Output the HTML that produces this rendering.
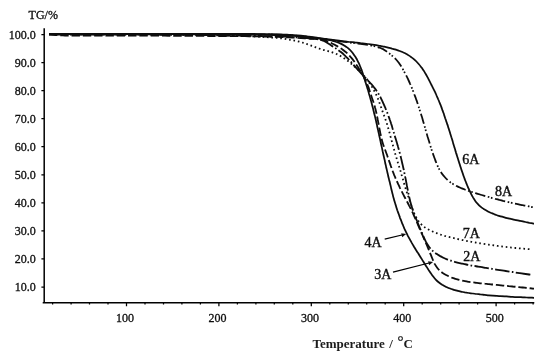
<!DOCTYPE html>
<html><head><meta charset="utf-8"><title>TG curves</title>
<style>
html,body{margin:0;padding:0;background:#fff;}
body{width:550px;height:357px;overflow:hidden;}
svg{display:block;}
text{font-family:"Liberation Serif","Times New Roman",serif;fill:#0c0c0c;stroke:#0c0c0c;stroke-width:0.24px;}
.t12{font-size:12px;stroke-width:0.3px;}
.t14{font-size:14px;stroke-width:0.36px;}
.ax{stroke:#000;stroke-width:1.5;fill:none;}
.cv path{stroke:#0a0a0a;fill:none;}
</style></head><body>
<svg width="550" height="357" viewBox="0 0 550 357">
<rect width="550" height="357" fill="#fff"/>
<g style="filter:url(#b)">
<defs><filter id="b" x="-2%" y="-2%" width="104%" height="104%"><feGaussianBlur stdDeviation="0.3"/></filter></defs>

<path class="ax" d="M44.2 28.3V302.8M42.7 302.8H534.3"/>
<path class="ax" style="stroke-width:1.25" d="M41.4 287.0H44.2M41.4 258.9H44.2M41.4 230.9H44.2M41.4 202.8H44.2M41.4 174.8H44.2M41.4 146.7H44.2M41.4 118.6H44.2M41.4 90.6H44.2M41.4 62.5H44.2M41.4 34.5H44.2"/>
<path class="ax" style="stroke-width:1.25" d="M52.6 302.8V304.6M71.1 302.8V304.6M89.5 302.8V304.6M108.0 302.8V304.6M126.5 302.8V306.2M145.0 302.8V304.6M163.5 302.8V304.6M181.9 302.8V304.6M200.4 302.8V304.6M218.9 302.8V306.2M237.4 302.8V304.6M255.9 302.8V304.6M274.3 302.8V304.6M292.8 302.8V304.6M311.3 302.8V306.2M329.8 302.8V304.6M348.3 302.8V304.6M366.7 302.8V304.6M385.2 302.8V304.6M403.7 302.8V306.2M422.2 302.8V304.6M440.7 302.8V304.6M459.1 302.8V304.6M477.6 302.8V304.6M496.1 302.8V306.2M514.6 302.8V304.6M533.1 302.8V304.6"/>
<text class="t12" x="35.8" y="291.3" text-anchor="end">10.0</text>
<text class="t12" x="35.8" y="263.2" text-anchor="end">20.0</text>
<text class="t12" x="35.8" y="235.2" text-anchor="end">30.0</text>
<text class="t12" x="35.8" y="207.1" text-anchor="end">40.0</text>
<text class="t12" x="35.8" y="179.1" text-anchor="end">50.0</text>
<text class="t12" x="35.8" y="151.0" text-anchor="end">60.0</text>
<text class="t12" x="35.8" y="122.9" text-anchor="end">70.0</text>
<text class="t12" x="35.8" y="94.9" text-anchor="end">80.0</text>
<text class="t12" x="35.8" y="66.8" text-anchor="end">90.0</text>
<text class="t12" x="35.8" y="38.8" text-anchor="end">100.0</text>
<text class="t12" x="125.1" y="322.2" text-anchor="middle">100</text>
<text class="t12" x="217.5" y="322.2" text-anchor="middle">200</text>
<text class="t12" x="309.9" y="322.2" text-anchor="middle">300</text>
<text class="t12" x="402.3" y="322.2" text-anchor="middle">400</text>
<text class="t12" x="494.7" y="322.2" text-anchor="middle">500</text>
<text class="t12" x="28.6" y="19.1">TG/%</text>
<text x="312.5" y="347.5" style="font-size:13px;font-weight:bold;stroke:none;fill:#1a1a1a">Temperature<tspan x="386.1"> / </tspan><tspan x="397.4" y="346.2" style="font-size:15px;font-weight:normal;stroke:#1a1a1a;stroke-width:0.3px">°</tspan><tspan x="403.6" y="347.5">C</tspan></text>
<text class="t14" x="462.3" y="164">6A</text>
<text class="t14" x="495" y="195.7">8A</text>
<text class="t14" x="462.8" y="238.2">7A</text>
<text class="t14" x="463.3" y="260.9">2A</text>
<text class="t14" x="364.6" y="246.5">4A</text>
<text class="t14" x="374.3" y="278.8">3A</text>
<path class="ax" style="stroke-width:1.25" d="M384.7 239.2L404 234.5M393 272.1L431 262.5"/>
<path fill="#111" d="M406.2 233.9L401.2 233.2L402.2 237.2ZM433.1 262L428.1 261.3L429.1 265.3Z"/>
<g class="cv">
<path style="stroke-width:1.75" d="M49.0 33.9C49.7 33.9 51.8 33.9 53.1 33.9C54.5 33.9 55.7 33.9 57.0 33.9C58.3 33.9 59.7 33.9 61.0 33.9C62.3 33.9 63.7 33.9 65.0 33.9C66.3 33.9 67.7 33.8 69.0 33.8C70.3 33.8 71.7 33.8 73.0 33.8C74.3 33.8 75.7 33.8 77.0 33.8C78.3 33.8 79.7 33.8 81.0 33.8C82.3 33.8 83.7 33.8 85.0 33.8C86.3 33.8 87.7 33.8 89.0 33.8C90.3 33.8 91.7 33.8 93.0 33.8C94.3 33.8 95.7 33.8 97.0 33.8C98.3 33.8 99.7 33.8 101.0 33.8C102.3 33.8 103.7 33.8 105.0 33.8C106.3 33.8 107.7 33.8 109.0 33.8C110.3 33.8 111.7 33.8 113.0 33.8C114.3 33.8 115.7 33.8 117.0 33.8C118.3 33.8 119.7 33.8 121.0 33.8C122.3 33.8 123.7 33.8 125.0 33.8C126.3 33.8 127.7 33.8 129.0 33.8C130.3 33.8 131.7 33.8 133.0 33.8C134.3 33.8 135.7 33.8 137.0 33.8C138.3 33.8 139.7 33.8 141.0 33.8C142.3 33.8 143.7 33.8 145.0 33.8C146.3 33.8 147.7 33.8 149.0 33.8C150.3 33.8 151.7 33.8 153.0 33.8C154.3 33.8 155.7 33.8 157.0 33.8C158.3 33.8 159.7 33.8 161.0 33.8C162.3 33.8 163.7 33.8 165.0 33.8C166.3 33.8 167.7 33.8 169.0 33.8C170.3 33.8 171.7 33.8 173.0 33.8C174.3 33.8 175.7 33.8 177.0 33.8C178.3 33.8 179.7 33.8 181.0 33.8C182.3 33.8 183.7 33.8 185.0 33.8C186.3 33.8 187.7 33.8 189.0 33.8C190.3 33.8 191.7 33.8 193.0 33.8C194.3 33.8 195.7 33.8 197.0 33.8C198.3 33.8 199.7 33.8 201.0 33.8C202.3 33.8 203.7 33.8 205.0 33.8C206.3 33.8 207.7 33.8 209.0 33.8C210.3 33.8 211.7 33.8 213.0 33.8C214.3 33.8 215.7 33.8 217.0 33.8C218.3 33.8 219.7 33.8 221.0 33.8C222.3 33.8 223.7 33.8 225.0 33.8C226.3 33.8 227.7 33.8 229.0 33.8C230.3 33.8 231.7 33.8 233.0 33.8C234.3 33.8 235.7 33.9 237.0 33.9C238.3 33.9 239.7 33.9 241.0 33.9C242.3 33.9 243.7 33.9 245.0 33.9C246.3 33.9 247.7 33.9 249.0 33.9C250.3 33.9 251.7 33.9 253.0 33.9C254.3 33.9 255.7 33.9 257.0 34.0C258.3 34.0 259.7 34.0 261.0 34.0C262.3 34.0 263.7 34.0 265.0 34.1C266.3 34.1 267.7 34.1 269.0 34.1C270.3 34.2 271.7 34.2 273.0 34.2C274.3 34.3 275.7 34.3 277.0 34.3C278.3 34.4 279.7 34.4 281.0 34.4C282.3 34.5 283.7 34.5 285.0 34.6C286.3 34.7 287.7 34.7 289.0 34.8C290.3 34.9 291.7 35.0 293.0 35.1C294.3 35.2 295.6 35.3 297.0 35.4C298.3 35.5 299.6 35.6 301.0 35.7C302.3 35.8 303.6 36.0 304.9 36.1C306.3 36.3 307.6 36.4 308.9 36.6C310.2 36.8 311.5 37.0 312.9 37.2C314.2 37.3 315.5 37.5 316.8 37.7C318.1 37.9 319.5 38.1 320.8 38.3C322.1 38.5 323.4 38.7 324.7 38.8C326.1 39.0 327.4 39.2 328.7 39.3C330.0 39.5 331.4 39.7 332.7 39.8C334.0 40.0 335.3 40.2 336.7 40.3C338.0 40.5 339.3 40.7 340.6 40.8C341.9 41.0 343.3 41.1 344.6 41.3C345.9 41.5 347.2 41.6 348.6 41.8C349.9 41.9 351.2 42.1 352.5 42.2C353.9 42.4 355.2 42.5 356.5 42.7C357.8 42.8 359.2 42.9 360.5 43.1C361.8 43.2 363.2 43.4 364.5 43.5C365.8 43.7 367.1 43.8 368.4 44.0C369.8 44.2 371.1 44.4 372.4 44.6C373.7 44.8 375.0 45.0 376.4 45.2C377.7 45.4 379.0 45.7 380.3 45.9C381.6 46.2 382.9 46.4 384.2 46.7C385.5 47.0 386.8 47.3 388.1 47.6C389.4 47.9 390.7 48.2 392.0 48.6C393.3 48.9 394.6 49.3 395.9 49.7C397.2 50.1 398.4 50.5 399.7 51.0C400.9 51.5 402.2 51.9 403.4 52.5C404.6 53.0 405.8 53.6 406.9 54.2C408.1 54.9 409.2 55.6 410.3 56.4C411.4 57.1 412.5 58.0 413.5 58.8C414.5 59.7 415.5 60.6 416.4 61.5C417.3 62.5 418.2 63.5 419.1 64.5C420.0 65.5 420.8 66.6 421.6 67.6C422.4 68.7 423.1 69.8 423.9 70.9C424.6 72.0 425.3 73.2 425.9 74.3C426.6 75.5 427.2 76.7 427.9 77.9C428.5 79.0 429.1 80.2 429.7 81.4C430.3 82.6 430.9 83.8 431.5 85.0C432.1 86.2 432.7 87.4 433.3 88.6C433.9 89.8 434.5 91.0 435.1 92.2C435.6 93.4 436.2 94.6 436.7 95.8C437.3 97.0 437.8 98.2 438.3 99.5C438.8 100.7 439.3 101.9 439.8 103.2C440.3 104.4 440.8 105.6 441.3 106.9C441.7 108.1 442.2 109.4 442.6 110.7C443.1 111.9 443.5 113.2 444.0 114.4C444.4 115.7 444.8 117.0 445.2 118.2C445.7 119.5 446.1 120.7 446.5 122.0C446.9 123.3 447.4 124.5 447.8 125.8C448.2 127.1 448.6 128.3 449.0 129.6C449.4 130.9 449.8 132.2 450.2 133.4C450.6 134.7 451.0 136.0 451.4 137.3C451.8 138.5 452.2 139.8 452.6 141.1C452.9 142.4 453.3 143.6 453.7 144.9C454.1 146.2 454.5 147.5 454.9 148.7C455.3 150.0 455.6 151.3 456.0 152.6C456.4 153.8 456.8 155.1 457.2 156.4C457.6 157.7 458.0 158.9 458.4 160.2C458.8 161.5 459.2 162.8 459.6 164.0C460.0 165.3 460.4 166.6 460.8 167.8C461.2 169.1 461.6 170.4 462.1 171.6C462.5 172.9 462.9 174.2 463.4 175.4C463.8 176.7 464.3 177.9 464.7 179.2C465.2 180.4 465.7 181.7 466.2 182.9C466.7 184.1 467.2 185.4 467.7 186.6C468.2 187.8 468.8 189.0 469.3 190.2C469.9 191.5 470.5 192.7 471.1 193.9C471.7 195.1 472.3 196.2 473.0 197.4C473.7 198.5 474.4 199.7 475.1 200.7C475.9 201.8 476.8 202.9 477.7 203.8C478.6 204.8 479.5 205.7 480.5 206.6C481.5 207.5 482.6 208.2 483.7 209.0C484.8 209.7 486.0 210.4 487.2 211.0C488.3 211.7 489.5 212.2 490.8 212.8C492.0 213.3 493.2 213.8 494.5 214.3C495.7 214.7 497.0 215.2 498.2 215.6C499.5 216.0 500.8 216.4 502.1 216.7C503.4 217.1 504.7 217.5 505.9 217.8C507.2 218.1 508.5 218.4 509.8 218.7C511.1 219.0 512.4 219.3 513.7 219.6C515.0 219.9 516.4 220.2 517.7 220.4C519.0 220.7 520.3 221.0 521.6 221.2C522.9 221.5 524.2 221.8 525.5 222.0C526.8 222.3 528.2 222.5 529.3 222.8C530.5 223.0 531.7 223.2 532.5 223.3C533.3 223.5 533.7 223.6 534.0 223.6"/>
<path style="stroke-width:1.75;stroke-dasharray:10.5 2.6 1.6 1.7 1.6 2.6" d="M49.0 34.0C49.7 34.0 51.8 34.0 53.1 34.0C54.5 34.0 55.7 34.0 57.0 34.0C58.3 34.0 59.7 34.0 61.0 34.0C62.3 34.0 63.7 34.0 65.0 34.0C66.3 34.0 67.7 34.0 69.0 34.0C70.3 34.0 71.7 34.0 73.0 34.0C74.3 34.0 75.7 34.0 77.0 34.0C78.3 34.0 79.7 34.0 81.0 34.0C82.3 34.0 83.7 34.0 85.0 34.0C86.3 34.0 87.7 34.0 89.0 34.0C90.3 34.0 91.7 34.0 93.0 34.0C94.3 34.0 95.7 34.0 97.0 34.0C98.3 34.0 99.7 34.0 101.0 34.0C102.3 34.0 103.7 34.0 105.0 34.0C106.3 34.0 107.7 34.0 109.0 34.0C110.3 34.0 111.7 34.0 113.0 34.0C114.3 34.0 115.7 34.0 117.0 34.0C118.3 34.0 119.7 34.0 121.0 34.0C122.3 34.0 123.7 34.0 125.0 34.0C126.3 34.0 127.7 34.0 129.0 34.0C130.3 34.0 131.7 34.0 133.0 34.0C134.3 34.0 135.7 34.0 137.0 34.0C138.3 34.0 139.7 34.0 141.0 34.0C142.3 34.0 143.7 34.0 145.0 34.0C146.3 34.0 147.7 34.0 149.0 34.0C150.3 34.0 151.7 34.0 153.0 34.0C154.3 34.0 155.7 34.0 157.0 34.0C158.3 34.0 159.7 34.0 161.0 34.0C162.3 34.0 163.7 34.0 165.0 34.0C166.3 34.0 167.7 34.0 169.0 34.0C170.3 34.0 171.7 34.0 173.0 34.0C174.3 34.0 175.7 34.0 177.0 34.0C178.3 34.0 179.7 34.0 181.0 34.0C182.3 34.0 183.7 34.0 185.0 34.0C186.3 34.0 187.7 34.0 189.0 34.0C190.3 34.0 191.7 34.0 193.0 34.0C194.3 34.0 195.7 34.0 197.0 34.0C198.3 34.0 199.7 34.0 201.0 34.0C202.3 34.0 203.7 34.0 205.0 34.0C206.3 34.0 207.7 34.0 209.0 34.0C210.3 34.0 211.7 34.0 213.0 34.0C214.3 34.0 215.7 34.0 217.0 34.0C218.3 34.0 219.7 34.0 221.0 34.0C222.3 34.0 223.7 34.1 225.0 34.1C226.3 34.1 227.7 34.1 229.0 34.1C230.3 34.1 231.7 34.1 233.0 34.1C234.3 34.1 235.7 34.1 237.0 34.1C238.3 34.1 239.7 34.1 241.0 34.1C242.3 34.1 243.7 34.2 245.0 34.2C246.3 34.2 247.7 34.2 249.0 34.2C250.3 34.2 251.7 34.2 253.0 34.2C254.3 34.2 255.7 34.3 257.0 34.3C258.3 34.3 259.7 34.3 261.0 34.3C262.3 34.4 263.7 34.4 265.0 34.4C266.3 34.4 267.7 34.5 269.0 34.5C270.3 34.5 271.7 34.6 273.0 34.6C274.3 34.6 275.7 34.7 277.0 34.7C278.3 34.8 279.7 34.8 281.0 34.8C282.3 34.9 283.7 34.9 285.0 35.0C286.3 35.1 287.7 35.1 289.0 35.2C290.3 35.3 291.6 35.4 293.0 35.5C294.3 35.6 295.6 35.7 297.0 35.8C298.3 35.9 299.6 36.0 301.0 36.1C302.3 36.2 303.6 36.4 304.9 36.5C306.2 36.7 307.6 36.8 308.9 37.0C310.2 37.2 311.5 37.4 312.9 37.5C314.2 37.7 315.5 37.9 316.8 38.1C318.1 38.3 319.5 38.5 320.8 38.7C322.1 38.9 323.4 39.1 324.7 39.2C326.1 39.4 327.4 39.6 328.7 39.8C330.0 39.9 331.4 40.1 332.7 40.3C334.0 40.4 335.3 40.6 336.6 40.8C338.0 41.0 339.3 41.1 340.6 41.3C341.9 41.5 343.3 41.7 344.6 41.8C345.9 42.0 347.2 42.2 348.5 42.4C349.9 42.5 351.2 42.7 352.5 42.9C353.8 43.0 355.2 43.2 356.5 43.4C357.8 43.5 359.1 43.7 360.5 43.9C361.8 44.0 363.1 44.2 364.4 44.4C365.8 44.6 367.1 44.8 368.4 45.0C369.7 45.2 371.0 45.4 372.3 45.7C373.6 46.0 374.9 46.3 376.2 46.6C377.5 47.0 378.8 47.3 380.0 47.8C381.2 48.3 382.4 48.8 383.6 49.4C384.7 50.1 385.8 50.8 386.9 51.6C388.0 52.4 389.1 53.2 390.1 54.1C391.2 54.9 392.2 55.8 393.2 56.7C394.2 57.6 395.2 58.5 396.1 59.5C397.0 60.5 397.8 61.5 398.6 62.5C399.4 63.6 400.2 64.7 400.9 65.8C401.6 66.9 402.3 68.1 402.9 69.2C403.6 70.4 404.2 71.6 404.8 72.8C405.5 74.0 406.1 75.2 406.7 76.4C407.3 77.6 407.8 78.8 408.4 80.0C409.0 81.2 409.5 82.4 410.0 83.6C410.6 84.8 411.1 86.1 411.6 87.3C412.1 88.5 412.6 89.8 413.1 91.0C413.6 92.3 414.1 93.5 414.5 94.8C415.0 96.0 415.4 97.3 415.9 98.5C416.3 99.8 416.8 101.0 417.2 102.3C417.6 103.6 418.0 104.8 418.4 106.1C418.9 107.4 419.3 108.6 419.7 109.9C420.1 111.2 420.5 112.5 420.9 113.7C421.3 115.0 421.7 116.3 422.1 117.5C422.5 118.8 422.8 120.1 423.2 121.4C423.6 122.7 423.9 123.9 424.3 125.2C424.7 126.5 425.0 127.8 425.4 129.1C425.8 130.4 426.1 131.6 426.5 132.9C426.9 134.2 427.3 135.5 427.6 136.8C428.0 138.0 428.4 139.3 428.8 140.6C429.2 141.9 429.6 143.1 429.9 144.4C430.3 145.7 430.7 147.0 431.1 148.2C431.5 149.5 431.9 150.8 432.4 152.1C432.8 153.3 433.2 154.6 433.7 155.8C434.1 157.1 434.6 158.3 435.1 159.6C435.5 160.8 436.0 162.1 436.5 163.3C437.0 164.6 437.6 165.8 438.1 167.0C438.7 168.2 439.3 169.4 440.0 170.5C440.6 171.7 441.4 172.8 442.1 173.9C442.9 174.9 443.8 176.0 444.7 177.0C445.5 178.0 446.5 178.9 447.5 179.8C448.4 180.7 449.5 181.6 450.5 182.4C451.6 183.1 452.7 183.9 453.9 184.5C455.0 185.2 456.2 185.8 457.4 186.4C458.6 187.0 459.8 187.5 461.1 188.1C462.3 188.6 463.5 189.1 464.8 189.5C466.0 190.0 467.3 190.4 468.5 190.9C469.8 191.3 471.1 191.7 472.3 192.1C473.6 192.5 474.9 192.9 476.2 193.3C477.4 193.7 478.7 194.1 480.0 194.5C481.3 194.9 482.5 195.3 483.8 195.6C485.1 196.0 486.4 196.4 487.7 196.7C489.0 197.1 490.2 197.5 491.5 197.8C492.8 198.2 494.1 198.5 495.4 198.9C496.7 199.2 498.0 199.5 499.3 199.9C500.6 200.2 501.8 200.5 503.1 200.9C504.4 201.2 505.7 201.5 507.0 201.8C508.3 202.1 509.6 202.4 510.9 202.7C512.2 203.0 513.5 203.3 514.8 203.6C516.1 203.8 517.4 204.1 518.7 204.4C520.0 204.7 521.4 204.9 522.7 205.2C524.0 205.4 525.3 205.7 526.6 205.9C527.9 206.2 529.1 206.4 530.3 206.6C531.6 206.9 533.4 207.2 534.0 207.3"/>
<path style="stroke-width:1.75" d="M49.0 34.1C49.7 34.1 51.8 34.1 53.1 34.1C54.5 34.1 55.7 34.1 57.0 34.1C58.3 34.1 59.7 34.1 61.0 34.1C62.3 34.1 63.7 34.1 65.0 34.1C66.3 34.1 67.7 34.2 69.0 34.2C70.3 34.2 71.7 34.2 73.0 34.2C74.3 34.2 75.7 34.2 77.0 34.2C78.3 34.2 79.7 34.2 81.0 34.2C82.3 34.2 83.7 34.2 85.0 34.2C86.3 34.2 87.7 34.2 89.0 34.2C90.3 34.2 91.7 34.2 93.0 34.2C94.3 34.2 95.7 34.2 97.0 34.2C98.3 34.2 99.7 34.2 101.0 34.2C102.3 34.2 103.7 34.2 105.0 34.2C106.3 34.2 107.7 34.2 109.0 34.2C110.3 34.2 111.7 34.2 113.0 34.2C114.3 34.2 115.7 34.2 117.0 34.2C118.3 34.2 119.7 34.2 121.0 34.2C122.3 34.2 123.7 34.2 125.0 34.2C126.3 34.2 127.7 34.2 129.0 34.2C130.3 34.2 131.7 34.2 133.0 34.2C134.3 34.2 135.7 34.2 137.0 34.2C138.3 34.2 139.7 34.2 141.0 34.2C142.3 34.2 143.7 34.2 145.0 34.2C146.3 34.2 147.7 34.2 149.0 34.2C150.3 34.2 151.7 34.2 153.0 34.2C154.3 34.2 155.7 34.2 157.0 34.2C158.3 34.2 159.7 34.2 161.0 34.2C162.3 34.2 163.7 34.2 165.0 34.2C166.3 34.2 167.7 34.2 169.0 34.2C170.3 34.2 171.7 34.2 173.0 34.2C174.3 34.2 175.7 34.2 177.0 34.2C178.3 34.2 179.7 34.2 181.0 34.2C182.3 34.2 183.7 34.3 185.0 34.3C186.3 34.3 187.7 34.3 189.0 34.3C190.3 34.3 191.7 34.3 193.0 34.3C194.3 34.3 195.7 34.3 197.0 34.3C198.3 34.3 199.7 34.3 201.0 34.3C202.3 34.3 203.7 34.3 205.0 34.3C206.3 34.3 207.7 34.3 209.0 34.3C210.3 34.3 211.7 34.3 213.0 34.3C214.3 34.4 215.7 34.4 217.0 34.4C218.3 34.4 219.7 34.4 221.0 34.4C222.3 34.4 223.7 34.4 225.0 34.4C226.3 34.4 227.7 34.4 229.0 34.4C230.3 34.4 231.7 34.5 233.0 34.5C234.3 34.5 235.7 34.5 237.0 34.5C238.3 34.5 239.7 34.5 241.0 34.5C242.3 34.5 243.7 34.5 245.0 34.6C246.3 34.6 247.7 34.6 249.0 34.6C250.3 34.6 251.7 34.6 253.0 34.6C254.3 34.7 255.7 34.7 257.0 34.7C258.3 34.7 259.7 34.7 261.0 34.7C262.3 34.8 263.7 34.8 265.0 34.8C266.3 34.8 267.7 34.9 269.0 34.9C270.3 34.9 271.7 35.0 273.0 35.0C274.3 35.0 275.7 35.1 277.0 35.1C278.3 35.2 279.7 35.2 281.0 35.2C282.3 35.3 283.7 35.4 285.0 35.4C286.3 35.5 287.7 35.6 289.0 35.6C290.3 35.7 291.6 35.8 293.0 35.9C294.3 36.0 295.6 36.1 297.0 36.2C298.3 36.3 299.6 36.4 301.0 36.5C302.3 36.6 303.6 36.7 304.9 36.8C306.3 36.9 307.6 37.1 308.9 37.2C310.3 37.3 311.6 37.5 312.9 37.6C314.2 37.8 315.6 37.9 316.9 38.1C318.2 38.3 319.5 38.5 320.9 38.7C322.2 38.8 323.5 39.0 324.8 39.3C326.1 39.5 327.4 39.7 328.7 40.0C330.1 40.3 331.4 40.5 332.7 40.9C334.0 41.2 335.3 41.5 336.5 42.0C337.8 42.4 339.0 42.8 340.2 43.4C341.4 43.9 342.7 44.5 343.8 45.2C344.9 45.9 346.1 46.6 347.1 47.4C348.2 48.2 349.2 49.1 350.1 50.0C351.0 51.0 351.9 52.0 352.7 53.0C353.5 54.1 354.3 55.2 355.0 56.3C355.8 57.4 356.4 58.6 357.1 59.8C357.7 60.9 358.3 62.1 358.9 63.3C359.4 64.6 359.9 65.8 360.4 67.0C360.9 68.3 361.4 69.5 361.9 70.8C362.3 72.0 362.7 73.3 363.1 74.6C363.5 75.8 363.9 77.1 364.3 78.4C364.7 79.6 365.1 80.9 365.5 82.2C365.9 83.5 366.3 84.7 366.7 86.0C367.1 87.3 367.5 88.6 367.9 89.8C368.3 91.1 368.7 92.4 369.0 93.7C369.4 95.0 369.8 96.2 370.1 97.5C370.5 98.8 370.8 100.1 371.2 101.4C371.5 102.7 371.8 104.0 372.2 105.3C372.5 106.5 372.8 107.8 373.2 109.1C373.5 110.4 373.8 111.7 374.1 113.0C374.4 114.3 374.8 115.6 375.1 116.9C375.4 118.2 375.7 119.5 376.0 120.8C376.3 122.1 376.6 123.4 376.9 124.7C377.1 126.0 377.4 127.3 377.7 128.6C378.0 129.9 378.3 131.2 378.6 132.5C378.9 133.8 379.1 135.1 379.4 136.4C379.7 137.7 380.0 139.0 380.3 140.3C380.6 141.6 380.8 142.9 381.1 144.2C381.4 145.5 381.7 146.8 382.0 148.1C382.3 149.4 382.6 150.7 382.8 152.0C383.1 153.3 383.4 154.7 383.7 156.0C384.0 157.3 384.3 158.6 384.6 159.9C384.9 161.2 385.1 162.5 385.4 163.8C385.7 165.1 386.0 166.4 386.3 167.7C386.6 169.0 386.9 170.3 387.2 171.6C387.5 172.9 387.8 174.2 388.1 175.5C388.4 176.8 388.7 178.1 389.0 179.4C389.3 180.7 389.7 181.9 390.0 183.2C390.3 184.5 390.6 185.8 390.9 187.1C391.2 188.4 391.5 189.7 391.8 191.0C392.1 192.3 392.5 193.6 392.8 194.9C393.1 196.2 393.4 197.5 393.8 198.8C394.1 200.1 394.5 201.3 394.9 202.6C395.3 203.9 395.7 205.2 396.1 206.4C396.5 207.7 396.9 209.0 397.3 210.2C397.8 211.5 398.2 212.8 398.7 214.0C399.1 215.3 399.6 216.5 400.0 217.8C400.5 219.0 401.0 220.3 401.5 221.5C401.9 222.8 402.4 224.0 403.0 225.2C403.5 226.5 404.0 227.7 404.5 228.9C405.1 230.1 405.7 231.3 406.2 232.5C406.8 233.7 407.4 234.9 408.0 236.1C408.7 237.3 409.3 238.4 410.0 239.6C410.6 240.8 411.3 241.9 411.9 243.1C412.6 244.2 413.3 245.4 413.9 246.5C414.6 247.7 415.3 248.8 416.0 250.0C416.7 251.1 417.4 252.2 418.2 253.3C418.9 254.5 419.6 255.6 420.3 256.7C421.0 257.8 421.7 259.0 422.4 260.1C423.1 261.2 423.8 262.4 424.5 263.5C425.2 264.6 425.9 265.8 426.7 266.9C427.4 268.0 428.1 269.2 428.8 270.3C429.6 271.4 430.3 272.5 431.1 273.6C431.8 274.7 432.6 275.8 433.4 276.8C434.2 277.9 435.1 278.9 436.0 279.8C436.9 280.8 437.9 281.7 439.0 282.5C440.0 283.3 441.1 284.1 442.2 284.8C443.4 285.5 444.5 286.1 445.7 286.7C446.9 287.3 448.2 287.8 449.4 288.3C450.6 288.8 451.9 289.3 453.2 289.7C454.4 290.1 455.7 290.4 457.0 290.7C458.3 291.1 459.6 291.4 460.9 291.6C462.2 291.9 463.5 292.1 464.8 292.4C466.2 292.6 467.5 292.8 468.8 293.0C470.1 293.2 471.4 293.3 472.8 293.5C474.1 293.7 475.4 293.8 476.7 294.0C478.1 294.2 479.4 294.3 480.7 294.5C482.0 294.6 483.4 294.8 484.7 294.9C486.0 295.0 487.3 295.2 488.7 295.3C490.0 295.4 491.3 295.5 492.7 295.6C494.0 295.7 495.3 295.8 496.6 295.9C498.0 296.0 499.3 296.1 500.6 296.1C502.0 296.2 503.3 296.3 504.6 296.4C506.0 296.5 507.3 296.5 508.6 296.6C510.0 296.7 511.3 296.8 512.6 296.8C513.9 296.9 515.3 297.0 516.6 297.0C517.9 297.1 519.3 297.2 520.6 297.2C521.9 297.3 523.3 297.4 524.6 297.4C525.9 297.5 527.3 297.5 528.6 297.6C529.8 297.6 531.1 297.7 532.0 297.7C532.9 297.8 533.7 297.8 534.0 297.8"/>
<path style="stroke-width:1.8;stroke-dasharray:8.4 2.9" d="M49.0 34.6C49.7 34.6 51.8 34.8 53.1 34.8C54.5 34.9 55.7 35.0 57.0 35.1C58.3 35.2 59.6 35.3 61.0 35.3C62.3 35.4 63.6 35.4 65.0 35.5C66.3 35.5 67.6 35.5 69.0 35.5C70.3 35.5 71.6 35.5 73.0 35.5C74.3 35.5 75.6 35.6 77.0 35.6C78.3 35.6 79.6 35.6 81.0 35.6C82.3 35.6 83.6 35.6 85.0 35.6C86.3 35.6 87.6 35.6 89.0 35.6C90.3 35.6 91.6 35.6 93.0 35.6C94.3 35.6 95.6 35.6 97.0 35.6C98.3 35.6 99.6 35.6 101.0 35.6C102.3 35.6 103.6 35.6 105.0 35.6C106.3 35.6 107.6 35.6 109.0 35.6C110.3 35.6 111.6 35.6 113.0 35.6C114.3 35.6 115.6 35.6 117.0 35.6C118.3 35.6 119.6 35.6 121.0 35.6C122.3 35.6 123.6 35.6 125.0 35.6C126.3 35.7 127.6 35.7 129.0 35.7C130.3 35.7 131.6 35.7 133.0 35.7C134.3 35.7 135.6 35.7 137.0 35.7C138.3 35.7 139.6 35.7 141.0 35.7C142.3 35.7 143.6 35.7 145.0 35.7C146.3 35.7 147.6 35.7 149.0 35.7C150.3 35.7 151.6 35.7 153.0 35.7C154.3 35.7 155.6 35.7 157.0 35.7C158.3 35.7 159.6 35.7 161.0 35.7C162.3 35.7 163.6 35.7 165.0 35.7C166.3 35.8 167.6 35.8 169.0 35.8C170.3 35.8 171.6 35.8 173.0 35.8C174.3 35.8 175.6 35.8 177.0 35.8C178.3 35.8 179.6 35.8 181.0 35.8C182.3 35.8 183.6 35.8 185.0 35.8C186.3 35.8 187.6 35.8 189.0 35.8C190.3 35.9 191.6 35.9 193.0 35.9C194.3 35.9 195.6 35.9 197.0 35.9C198.3 35.9 199.6 35.9 201.0 35.9C202.3 35.9 203.6 35.9 205.0 35.9C206.3 35.9 207.6 35.9 209.0 36.0C210.3 36.0 211.6 36.0 213.0 36.0C214.3 36.0 215.6 36.0 217.0 36.0C218.3 36.0 219.6 36.0 221.0 36.0C222.3 36.0 223.6 36.0 225.0 36.1C226.3 36.1 227.6 36.1 229.0 36.1C230.3 36.1 231.6 36.1 233.0 36.1C234.3 36.1 235.6 36.1 237.0 36.2C238.3 36.2 239.6 36.2 241.0 36.2C242.3 36.2 243.6 36.2 245.0 36.2C246.3 36.3 247.6 36.3 249.0 36.3C250.3 36.3 251.6 36.3 253.0 36.3C254.3 36.4 255.6 36.4 257.0 36.4C258.3 36.4 259.6 36.5 261.0 36.5C262.3 36.5 263.6 36.5 265.0 36.6C266.3 36.6 267.6 36.6 269.0 36.7C270.3 36.7 271.6 36.7 273.0 36.8C274.3 36.8 275.6 36.9 277.0 36.9C278.3 36.9 279.6 37.0 281.0 37.0C282.3 37.1 283.6 37.1 285.0 37.2C286.3 37.3 287.6 37.3 289.0 37.4C290.3 37.4 291.6 37.5 293.0 37.6C294.3 37.7 295.6 37.7 296.9 37.8C298.3 37.9 299.6 38.0 300.9 38.1C302.3 38.1 303.6 38.2 305.0 38.3C306.3 38.4 307.7 38.5 309.0 38.6C310.4 38.7 311.7 38.8 313.1 38.9C314.4 39.0 315.7 39.1 317.1 39.2C318.4 39.4 319.7 39.5 321.0 39.7C322.3 39.9 323.6 40.1 324.8 40.4C326.1 40.7 327.3 41.2 328.5 41.7C329.7 42.2 330.9 42.8 332.1 43.5C333.3 44.1 334.5 44.7 335.7 45.4C336.8 46.0 338.0 46.7 339.2 47.4C340.3 48.0 341.5 48.7 342.5 49.5C343.6 50.3 344.6 51.1 345.7 51.9C346.7 52.8 347.6 53.8 348.5 54.7C349.5 55.7 350.4 56.7 351.2 57.7C352.1 58.7 352.9 59.7 353.7 60.8C354.5 61.9 355.3 63.0 356.0 64.1C356.8 65.2 357.5 66.3 358.2 67.4C358.9 68.6 359.6 69.7 360.3 70.8C361.0 72.0 361.7 73.1 362.3 74.3C363.0 75.5 363.6 76.6 364.3 77.8C364.9 79.0 365.5 80.2 366.1 81.4C366.6 82.6 367.2 83.8 367.6 85.0C368.1 86.3 368.5 87.5 369.0 88.8C369.4 90.1 369.8 91.3 370.2 92.6C370.6 93.9 371.1 95.1 371.5 96.4C371.9 97.7 372.3 98.9 372.8 100.2C373.2 101.5 373.6 102.7 374.0 104.0C374.4 105.3 374.8 106.6 375.1 107.8C375.5 109.1 375.8 110.4 376.1 111.7C376.4 113.0 376.7 114.3 376.9 115.6C377.2 116.9 377.5 118.2 377.7 119.5C378.0 120.9 378.2 122.2 378.5 123.5C378.7 124.8 379.0 126.1 379.2 127.4C379.5 128.7 379.7 130.0 380.0 131.3C380.2 132.7 380.5 134.0 380.8 135.3C381.0 136.6 381.3 137.9 381.7 139.2C382.0 140.4 382.3 141.7 382.7 143.0C383.1 144.3 383.5 145.5 384.0 146.8C384.4 148.0 384.9 149.3 385.4 150.5C385.8 151.8 386.3 153.0 386.8 154.3C387.2 155.6 387.7 156.8 388.1 158.1C388.6 159.3 389.0 160.6 389.4 161.9C389.9 163.1 390.3 164.4 390.7 165.6C391.2 166.9 391.6 168.2 392.1 169.4C392.5 170.7 393.0 171.9 393.5 173.2C393.9 174.4 394.4 175.6 395.0 176.9C395.5 178.1 396.0 179.3 396.6 180.5C397.1 181.7 397.7 183.0 398.2 184.2C398.8 185.4 399.4 186.6 399.9 187.8C400.5 189.0 401.1 190.2 401.7 191.4C402.3 192.6 402.9 193.7 403.5 194.9C404.1 196.1 404.8 197.3 405.4 198.5C406.0 199.7 406.6 200.8 407.3 202.0C407.9 203.2 408.5 204.4 409.1 205.6C409.7 206.7 410.3 207.9 410.9 209.1C411.5 210.3 412.1 211.5 412.7 212.7C413.2 213.9 413.8 215.2 414.3 216.4C414.8 217.6 415.4 218.8 415.9 220.0C416.4 221.3 417.0 222.5 417.5 223.7C418.0 224.9 418.5 226.2 419.1 227.4C419.6 228.6 420.1 229.8 420.7 231.1C421.2 232.3 421.7 233.5 422.3 234.7C422.8 235.9 423.4 237.2 423.9 238.4C424.4 239.6 425.0 240.8 425.5 242.0C426.1 243.2 426.6 244.5 427.1 245.7C427.6 246.9 428.1 248.2 428.6 249.4C429.1 250.6 429.6 251.9 430.1 253.1C430.6 254.3 431.1 255.6 431.6 256.8C432.1 258.1 432.6 259.3 433.1 260.5C433.7 261.7 434.2 263.0 434.8 264.1C435.5 265.3 436.2 266.4 437.0 267.5C437.8 268.6 438.6 269.6 439.6 270.5C440.5 271.4 441.6 272.2 442.7 273.0C443.8 273.7 444.9 274.4 446.1 275.0C447.3 275.6 448.5 276.2 449.7 276.7C450.9 277.3 452.2 277.8 453.4 278.2C454.7 278.7 456.0 279.1 457.3 279.4C458.5 279.8 459.8 280.1 461.1 280.4C462.4 280.7 463.7 281.0 465.0 281.2C466.3 281.5 467.7 281.7 469.0 281.9C470.3 282.1 471.6 282.2 473.0 282.4C474.3 282.5 475.6 282.7 476.9 282.8C478.3 283.0 479.6 283.1 480.9 283.3C482.2 283.4 483.6 283.5 484.9 283.7C486.2 283.8 487.5 284.0 488.9 284.1C490.2 284.2 491.5 284.4 492.8 284.5C494.2 284.6 495.5 284.8 496.8 284.9C498.2 285.0 499.5 285.1 500.8 285.3C502.1 285.4 503.5 285.5 504.8 285.7C506.1 285.8 507.4 285.9 508.8 286.1C510.1 286.2 511.4 286.3 512.7 286.5C514.1 286.6 515.4 286.7 516.7 286.9C518.1 287.0 519.4 287.2 520.7 287.3C522.0 287.4 523.4 287.6 524.7 287.7C526.0 287.9 527.4 288.0 528.6 288.1C529.8 288.3 531.1 288.4 532.0 288.5C532.9 288.6 533.7 288.7 534.0 288.7"/>
<path style="stroke-width:1.8;stroke-dasharray:14.5 2.4 1.6 2.4" d="M49.0 34.5C49.7 34.5 51.8 34.5 53.1 34.5C54.5 34.5 55.7 34.5 57.0 34.5C58.3 34.5 59.7 34.5 61.0 34.5C62.3 34.5 63.7 34.5 65.0 34.5C66.3 34.5 67.7 34.5 69.0 34.5C70.3 34.5 71.7 34.5 73.0 34.5C74.3 34.5 75.7 34.6 77.0 34.6C78.3 34.6 79.7 34.6 81.0 34.6C82.3 34.6 83.7 34.6 85.0 34.6C86.3 34.6 87.7 34.6 89.0 34.6C90.3 34.6 91.7 34.6 93.0 34.6C94.3 34.6 95.7 34.6 97.0 34.6C98.3 34.6 99.7 34.6 101.0 34.6C102.3 34.6 103.7 34.6 105.0 34.6C106.3 34.6 107.7 34.6 109.0 34.6C110.3 34.6 111.7 34.6 113.0 34.6C114.3 34.6 115.7 34.6 117.0 34.6C118.3 34.6 119.7 34.6 121.0 34.6C122.3 34.6 123.7 34.6 125.0 34.6C126.3 34.6 127.7 34.6 129.0 34.6C130.3 34.7 131.7 34.7 133.0 34.7C134.3 34.7 135.7 34.7 137.0 34.7C138.3 34.7 139.7 34.7 141.0 34.7C142.3 34.7 143.7 34.7 145.0 34.7C146.3 34.7 147.7 34.7 149.0 34.7C150.3 34.7 151.7 34.7 153.0 34.7C154.3 34.7 155.7 34.7 157.0 34.7C158.3 34.7 159.7 34.7 161.0 34.8C162.3 34.8 163.7 34.8 165.0 34.8C166.3 34.8 167.7 34.8 169.0 34.8C170.3 34.8 171.7 34.8 173.0 34.8C174.3 34.9 175.7 34.9 177.0 34.9C178.3 34.9 179.7 34.9 181.0 34.9C182.3 34.9 183.7 34.9 185.0 34.9C186.3 35.0 187.7 35.0 189.0 35.0C190.3 35.0 191.7 35.0 193.0 35.0C194.3 35.0 195.7 35.1 197.0 35.1C198.3 35.1 199.7 35.1 201.0 35.1C202.3 35.1 203.7 35.1 205.0 35.2C206.3 35.2 207.7 35.2 209.0 35.2C210.3 35.2 211.7 35.2 213.0 35.2C214.3 35.3 215.7 35.3 217.0 35.3C218.3 35.3 219.7 35.3 221.0 35.3C222.3 35.4 223.7 35.4 225.0 35.4C226.3 35.4 227.7 35.4 229.0 35.5C230.3 35.5 231.7 35.5 233.0 35.5C234.3 35.5 235.7 35.6 237.0 35.6C238.3 35.6 239.7 35.6 241.0 35.6C242.3 35.7 243.7 35.7 245.0 35.7C246.3 35.7 247.7 35.8 249.0 35.8C250.3 35.8 251.7 35.8 253.0 35.9C254.3 35.9 255.7 35.9 257.0 35.9C258.3 36.0 259.7 36.0 261.0 36.0C262.3 36.0 263.7 36.1 265.0 36.1C266.3 36.1 267.7 36.2 269.0 36.2C270.3 36.2 271.7 36.3 273.0 36.3C274.3 36.3 275.7 36.4 277.0 36.4C278.3 36.4 279.7 36.5 281.0 36.5C282.3 36.6 283.6 36.6 285.0 36.7C286.3 36.8 287.6 36.8 289.0 36.9C290.3 37.0 291.6 37.1 293.0 37.1C294.3 37.2 295.6 37.3 297.0 37.4C298.3 37.5 299.6 37.6 301.0 37.7C302.3 37.8 303.7 37.9 305.0 38.0C306.4 38.1 307.7 38.2 309.1 38.3C310.4 38.4 311.8 38.5 313.1 38.7C314.4 38.8 315.8 39.0 317.1 39.2C318.4 39.4 319.6 39.6 320.9 39.9C322.1 40.3 323.3 40.7 324.5 41.2C325.6 41.8 326.8 42.5 327.9 43.2C329.0 43.9 330.2 44.8 331.3 45.5C332.4 46.3 333.5 47.0 334.7 47.7C335.8 48.4 336.9 49.1 338.0 49.9C339.1 50.7 340.2 51.4 341.3 52.3C342.3 53.1 343.3 54.0 344.2 54.9C345.2 55.8 346.1 56.8 347.0 57.7C348.0 58.7 348.9 59.7 349.8 60.7C350.7 61.6 351.6 62.6 352.5 63.6C353.4 64.6 354.2 65.6 355.1 66.6C356.0 67.6 356.9 68.6 357.8 69.6C358.7 70.6 359.6 71.6 360.5 72.6C361.4 73.5 362.3 74.5 363.2 75.5C364.1 76.5 365.0 77.4 366.0 78.4C366.9 79.3 367.8 80.3 368.7 81.3C369.6 82.3 370.5 83.2 371.4 84.2C372.3 85.2 373.2 86.3 374.0 87.3C374.9 88.3 375.7 89.4 376.4 90.5C377.2 91.6 377.9 92.7 378.5 93.8C379.2 95.0 379.8 96.2 380.5 97.3C381.1 98.5 381.6 99.7 382.2 100.9C382.8 102.2 383.4 103.4 383.9 104.6C384.4 105.8 385.0 107.0 385.5 108.3C386.0 109.5 386.5 110.7 387.0 112.0C387.5 113.2 387.9 114.5 388.4 115.7C388.8 117.0 389.3 118.2 389.7 119.5C390.2 120.7 390.6 122.0 391.0 123.3C391.4 124.5 391.8 125.8 392.2 127.1C392.5 128.4 392.9 129.7 393.3 130.9C393.7 132.2 394.1 133.5 394.5 134.8C394.8 136.0 395.2 137.3 395.6 138.6C396.0 139.9 396.4 141.1 396.8 142.4C397.1 143.7 397.5 145.0 397.9 146.3C398.3 147.5 398.6 148.8 399.0 150.1C399.3 151.4 399.7 152.7 400.0 154.0C400.4 155.3 400.7 156.6 401.0 157.9C401.3 159.1 401.6 160.4 401.9 161.7C402.2 163.0 402.5 164.3 402.8 165.6C403.1 166.9 403.4 168.2 403.7 169.5C404.0 170.9 404.2 172.2 404.5 173.5C404.8 174.8 405.0 176.1 405.3 177.4C405.6 178.7 405.8 180.0 406.1 181.3C406.3 182.6 406.6 183.9 406.8 185.2C407.1 186.5 407.3 187.9 407.6 189.2C407.9 190.5 408.1 191.8 408.4 193.1C408.6 194.4 408.9 195.7 409.2 197.0C409.5 198.3 409.8 199.6 410.1 200.9C410.4 202.2 410.8 203.5 411.2 204.8C411.5 206.0 411.9 207.3 412.3 208.6C412.7 209.9 413.1 211.1 413.6 212.4C414.0 213.6 414.5 214.9 415.0 216.1C415.5 217.4 416.0 218.6 416.5 219.8C417.0 221.1 417.5 222.3 418.0 223.5C418.5 224.8 419.0 226.0 419.5 227.2C420.0 228.5 420.6 229.7 421.1 230.9C421.6 232.1 422.1 233.4 422.7 234.6C423.2 235.8 423.7 237.1 424.3 238.3C424.8 239.5 425.4 240.7 426.0 241.9C426.6 243.0 427.3 244.2 428.0 245.3C428.7 246.4 429.5 247.5 430.4 248.5C431.3 249.5 432.2 250.4 433.2 251.3C434.2 252.2 435.3 253.0 436.4 253.7C437.5 254.5 438.6 255.2 439.8 255.9C440.9 256.5 442.1 257.1 443.3 257.7C444.5 258.3 445.7 258.8 447.0 259.3C448.2 259.8 449.5 260.2 450.7 260.6C452.0 261.0 453.3 261.4 454.6 261.8C455.9 262.2 457.1 262.5 458.4 262.8C459.7 263.1 461.0 263.4 462.3 263.7C463.6 264.0 464.9 264.3 466.3 264.5C467.6 264.8 468.9 265.0 470.2 265.2C471.5 265.5 472.8 265.7 474.1 265.9C475.4 266.1 476.8 266.4 478.1 266.6C479.4 266.8 480.7 267.0 482.0 267.2C483.3 267.4 484.7 267.7 486.0 267.9C487.3 268.1 488.6 268.3 489.9 268.5C491.2 268.7 492.6 268.9 493.9 269.1C495.2 269.4 496.5 269.6 497.8 269.8C499.1 270.0 500.5 270.2 501.8 270.4C503.1 270.6 504.4 270.8 505.7 271.0C507.0 271.2 508.4 271.4 509.7 271.6C511.0 271.8 512.3 272.0 513.6 272.2C514.9 272.4 516.3 272.6 517.6 272.8C518.9 273.0 520.2 273.2 521.5 273.4C522.9 273.6 524.2 273.8 525.5 274.0C526.7 274.2 528.0 274.4 529.0 274.5C530.0 274.7 531.1 274.8 531.5 274.9"/>
<path style="stroke-width:1.8;stroke-dasharray:1.6 2.85" d="M49.0 34.2C49.7 34.2 51.8 34.2 53.1 34.2C54.5 34.2 55.7 34.2 57.0 34.2C58.3 34.2 59.7 34.2 61.0 34.2C62.3 34.2 63.7 34.2 65.0 34.2C66.3 34.2 67.7 34.2 69.0 34.2C70.3 34.2 71.7 34.2 73.0 34.2C74.3 34.2 75.7 34.2 77.0 34.2C78.3 34.2 79.7 34.3 81.0 34.3C82.3 34.3 83.7 34.3 85.0 34.3C86.3 34.3 87.7 34.3 89.0 34.3C90.3 34.3 91.7 34.3 93.0 34.3C94.3 34.3 95.7 34.3 97.0 34.3C98.3 34.3 99.7 34.3 101.0 34.3C102.3 34.3 103.7 34.3 105.0 34.3C106.3 34.3 107.7 34.3 109.0 34.3C110.3 34.3 111.7 34.3 113.0 34.3C114.3 34.3 115.7 34.3 117.0 34.4C118.3 34.4 119.7 34.4 121.0 34.4C122.3 34.4 123.7 34.4 125.0 34.4C126.3 34.4 127.7 34.4 129.0 34.4C130.3 34.4 131.7 34.4 133.0 34.4C134.3 34.4 135.7 34.4 137.0 34.4C138.3 34.4 139.7 34.4 141.0 34.5C142.3 34.5 143.7 34.5 145.0 34.5C146.3 34.5 147.7 34.5 149.0 34.5C150.3 34.5 151.7 34.5 153.0 34.5C154.3 34.5 155.7 34.5 157.0 34.5C158.3 34.6 159.7 34.6 161.0 34.6C162.3 34.6 163.7 34.6 165.0 34.6C166.3 34.6 167.7 34.6 169.0 34.6C170.3 34.7 171.7 34.7 173.0 34.7C174.3 34.7 175.7 34.7 177.0 34.7C178.3 34.7 179.7 34.7 181.0 34.8C182.3 34.8 183.7 34.8 185.0 34.8C186.3 34.8 187.7 34.8 189.0 34.9C190.3 34.9 191.7 34.9 193.0 34.9C194.3 34.9 195.7 34.9 197.0 35.0C198.3 35.0 199.7 35.0 201.0 35.0C202.3 35.0 203.7 35.1 205.0 35.1C206.3 35.1 207.7 35.1 209.0 35.2C210.3 35.2 211.7 35.2 213.0 35.2C214.3 35.3 215.7 35.3 217.0 35.3C218.3 35.3 219.7 35.4 221.0 35.4C222.3 35.4 223.7 35.5 225.0 35.5C226.3 35.5 227.7 35.6 229.0 35.6C230.3 35.7 231.7 35.7 233.0 35.7C234.3 35.8 235.7 35.8 237.0 35.9C238.3 35.9 239.7 35.9 241.0 36.0C242.3 36.0 243.7 36.1 245.0 36.1C246.3 36.2 247.6 36.2 249.0 36.3C250.3 36.3 251.6 36.4 253.0 36.4C254.3 36.5 255.6 36.6 257.0 36.6C258.3 36.7 259.6 36.8 261.0 36.8C262.3 36.9 263.6 37.0 265.0 37.1C266.3 37.2 267.6 37.2 269.0 37.3C270.3 37.4 271.6 37.5 272.9 37.6C274.3 37.7 275.6 37.8 276.9 37.9C278.3 38.1 279.6 38.2 280.9 38.3C282.2 38.5 283.6 38.7 284.9 38.9C286.2 39.1 287.5 39.3 288.8 39.5C290.1 39.7 291.5 39.9 292.8 40.2C294.1 40.5 295.4 40.7 296.7 41.0C298.0 41.3 299.3 41.7 300.5 42.0C301.8 42.4 303.1 42.8 304.4 43.2C305.6 43.6 306.9 44.1 308.1 44.5C309.4 45.0 310.6 45.4 311.9 45.9C313.2 46.3 314.4 46.8 315.7 47.3C316.9 47.7 318.2 48.2 319.4 48.6C320.7 49.0 322.0 49.4 323.3 49.8C324.5 50.2 325.8 50.5 327.1 50.8C328.4 51.2 329.7 51.5 331.0 51.9C332.2 52.3 333.5 52.8 334.7 53.2C336.0 53.7 337.2 54.3 338.4 54.9C339.6 55.5 340.7 56.1 341.9 56.8C343.0 57.5 344.1 58.2 345.2 59.0C346.3 59.7 347.4 60.6 348.4 61.4C349.4 62.2 350.5 63.1 351.5 64.0C352.5 64.8 353.5 65.7 354.5 66.6C355.5 67.5 356.5 68.3 357.5 69.2C358.5 70.1 359.5 71.1 360.4 72.0C361.3 72.9 362.3 73.9 363.2 74.9C364.1 75.9 364.9 76.9 365.8 77.9C366.6 78.9 367.4 80.0 368.2 81.1C369.0 82.2 369.7 83.3 370.5 84.4C371.2 85.5 371.9 86.7 372.6 87.8C373.2 89.0 373.9 90.1 374.5 91.3C375.1 92.5 375.7 93.7 376.3 94.9C376.9 96.1 377.4 97.3 377.9 98.5C378.4 99.8 378.8 101.0 379.3 102.3C379.7 103.5 380.2 104.8 380.6 106.0C381.1 107.3 381.5 108.6 382.0 109.8C382.4 111.1 382.9 112.3 383.4 113.6C383.8 114.8 384.3 116.1 384.7 117.3C385.2 118.6 385.6 119.9 386.0 121.1C386.4 122.4 386.9 123.6 387.3 124.9C387.6 126.2 388.0 127.5 388.4 128.8C388.8 130.0 389.1 131.3 389.5 132.6C389.8 133.9 390.2 135.2 390.5 136.5C390.9 137.8 391.2 139.0 391.6 140.3C391.9 141.6 392.3 142.9 392.6 144.2C393.0 145.5 393.3 146.8 393.7 148.0C394.0 149.3 394.4 150.6 394.7 151.9C395.1 153.2 395.4 154.5 395.8 155.8C396.2 157.0 396.6 158.3 397.0 159.6C397.3 160.9 397.7 162.1 398.1 163.4C398.5 164.7 398.9 166.0 399.3 167.2C399.7 168.5 400.1 169.8 400.5 171.0C400.9 172.3 401.3 173.6 401.6 174.9C402.0 176.2 402.4 177.4 402.8 178.7C403.1 180.0 403.5 181.3 403.9 182.6C404.2 183.9 404.6 185.1 405.0 186.4C405.4 187.7 405.8 189.0 406.2 190.2C406.6 191.5 407.0 192.8 407.4 194.0C407.9 195.3 408.3 196.5 408.7 197.8C409.2 199.1 409.6 200.3 410.0 201.6C410.4 202.9 410.9 204.1 411.3 205.4C411.7 206.7 412.1 207.9 412.6 209.2C413.0 210.4 413.5 211.7 414.0 212.9C414.6 214.1 415.1 215.3 415.8 216.5C416.4 217.7 417.0 218.9 417.8 220.0C418.5 221.1 419.3 222.2 420.2 223.2C421.0 224.2 422.0 225.1 423.0 226.0C424.0 226.8 425.0 227.6 426.2 228.3C427.3 229.0 428.5 229.6 429.7 230.2C430.9 230.8 432.1 231.3 433.4 231.8C434.6 232.4 435.8 232.9 437.1 233.3C438.3 233.8 439.6 234.3 440.8 234.7C442.1 235.1 443.4 235.5 444.7 235.9C445.9 236.2 447.2 236.6 448.5 236.9C449.8 237.2 451.1 237.5 452.4 237.8C453.7 238.1 455.0 238.4 456.3 238.7C457.6 239.0 458.9 239.3 460.2 239.6C461.5 239.8 462.8 240.1 464.1 240.4C465.5 240.6 466.8 240.9 468.1 241.1C469.4 241.4 470.7 241.6 472.0 241.9C473.3 242.1 474.6 242.3 475.9 242.6C477.3 242.8 478.6 243.0 479.9 243.3C481.2 243.5 482.5 243.7 483.8 243.9C485.2 244.1 486.5 244.3 487.8 244.5C489.1 244.7 490.4 244.9 491.7 245.1C493.1 245.3 494.4 245.5 495.7 245.6C497.0 245.8 498.4 246.0 499.7 246.2C501.0 246.3 502.3 246.5 503.6 246.7C505.0 246.8 506.3 247.0 507.6 247.1C508.9 247.3 510.3 247.4 511.6 247.6C512.9 247.7 514.2 247.9 515.6 248.0C516.9 248.1 518.2 248.2 519.6 248.4C520.9 248.5 522.2 248.6 523.5 248.7C524.8 248.8 526.1 248.9 527.4 249.0C528.7 249.1 530.8 249.3 531.5 249.3"/>
</g></g></svg></body></html>
